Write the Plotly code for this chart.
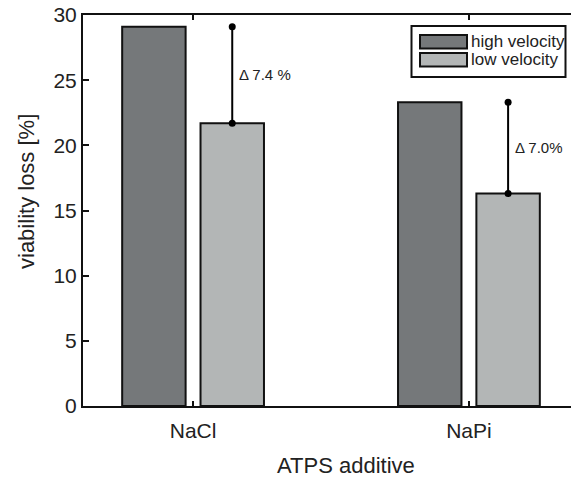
import plotly.graph_objects as go

# ---- data ----
categories = ["NaCl", "NaPi"]
series_names = ["high velocity", "low velocity"]
high_velocity = [29.1, 23.3]
low_velocity = [21.7, 16.3]
delta_labels = ["Δ 7.4 %", "Δ 7.0%"]
y_ticks = [0, 5, 10, 15, 20, 25, 30]

# ---- style ----
DARK = "#75787a"
LIGHT = "#b3b6b6"
EDGE = "#111111"
TXT = "#222222"
FONT = "Liberation Sans, Arial, Helvetica, sans-serif"
BAR_W = 0.23
OFF = 0.142

W, H = 571, 479
ML, MR, MT, MB = 83, 0, 15, 73

idx = list(range(len(categories)))

fig = go.Figure()
fig.add_trace(go.Bar(
    x=[i - OFF for i in idx], y=high_velocity, width=BAR_W, name=series_names[0],
    marker=dict(color=DARK, line=dict(color=EDGE, width=2)), showlegend=False))
fig.add_trace(go.Bar(
    x=[i + OFF for i in idx], y=low_velocity, width=BAR_W, name=series_names[1],
    marker=dict(color=LIGHT, line=dict(color=EDGE, width=2)), showlegend=False))

# delta indicators
for i in idx:
    fig.add_trace(go.Scatter(
        x=[i + OFF, i + OFF], y=[low_velocity[i], high_velocity[i]],
        mode="lines+markers", line=dict(color="black", width=2),
        marker=dict(color="black", size=7), showlegend=False, hoverinfo="skip"))
    fig.add_annotation(
        x=i + OFF, y=(low_velocity[i] + high_velocity[i]) / 2,
        text=delta_labels[i], showarrow=False, xanchor="left", yanchor="middle",
        xshift=5, font=dict(family=FONT, size=15, color=TXT))

# custom legend (paper coords)
def px2x(p):
    return (p - ML) / (W - ML - MR)

def py2y(p):
    return (H - MB - p) / (H - MB - MT)

fig.add_shape(type="rect", xref="paper", yref="paper",
              x0=px2x(411.5), x1=px2x(565.5), y0=py2y(77), y1=py2y(26),
              line=dict(color=EDGE, width=2), fillcolor="white", layer="above")
sw = [(35, 48.5), (53, 66.5)]
for k, (name, col) in enumerate(zip(series_names, [DARK, LIGHT])):
    fig.add_shape(type="rect", xref="paper", yref="paper",
                  x0=px2x(420), x1=px2x(467), y0=py2y(sw[k][1]), y1=py2y(sw[k][0]),
                  line=dict(color=EDGE, width=2), fillcolor=col, layer="above")
    fig.add_annotation(xref="paper", yref="paper", x=px2x(469),
                       y=py2y((sw[k][0] + sw[k][1]) / 2), text=name, showarrow=False,
                       xanchor="left", yanchor="middle",
                       font=dict(family=FONT, size=17, color=TXT))

# axis titles (positioned as in the original, uncropped axes)
fig.add_annotation(xref="paper", yref="paper", x=px2x(346), y=py2y(465),
                   text="ATPS additive", showarrow=False, xanchor="center",
                   yanchor="middle", font=dict(family=FONT, size=22, color=TXT))
fig.add_annotation(xref="paper", yref="paper", x=px2x(26), y=py2y(192),
                   text="viability loss [%]", showarrow=False, textangle=-90,
                   xanchor="center", yanchor="middle",
                   font=dict(family=FONT, size=22, color=TXT))

fig.update_layout(
    width=W, height=H, margin=dict(l=ML, r=MR, t=MT, b=MB),
    paper_bgcolor="white", plot_bgcolor="white", barmode="overlay",
    font=dict(family=FONT, size=21, color=TXT),
    xaxis=dict(range=[-0.399, 1.37], tickvals=idx, ticktext=categories,
               showline=True, linecolor=EDGE, linewidth=2, mirror="ticks",
               ticks="inside", ticklen=5, tickwidth=1.5, tickcolor=EDGE,
               ticklabelstandoff=5,
               showgrid=False, zeroline=False, fixedrange=True,
               tickfont=dict(family=FONT, size=21, color=TXT)),
    yaxis=dict(range=[0, 30], tickvals=y_ticks, showline=True, linecolor=EDGE,
               linewidth=2, ticks="inside", ticklen=6, tickwidth=1.5, tickcolor=EDGE,
               showgrid=False, zeroline=False,
               tickfont=dict(family=FONT, size=21, color=TXT)),
)

fig.write_html("out.html")
